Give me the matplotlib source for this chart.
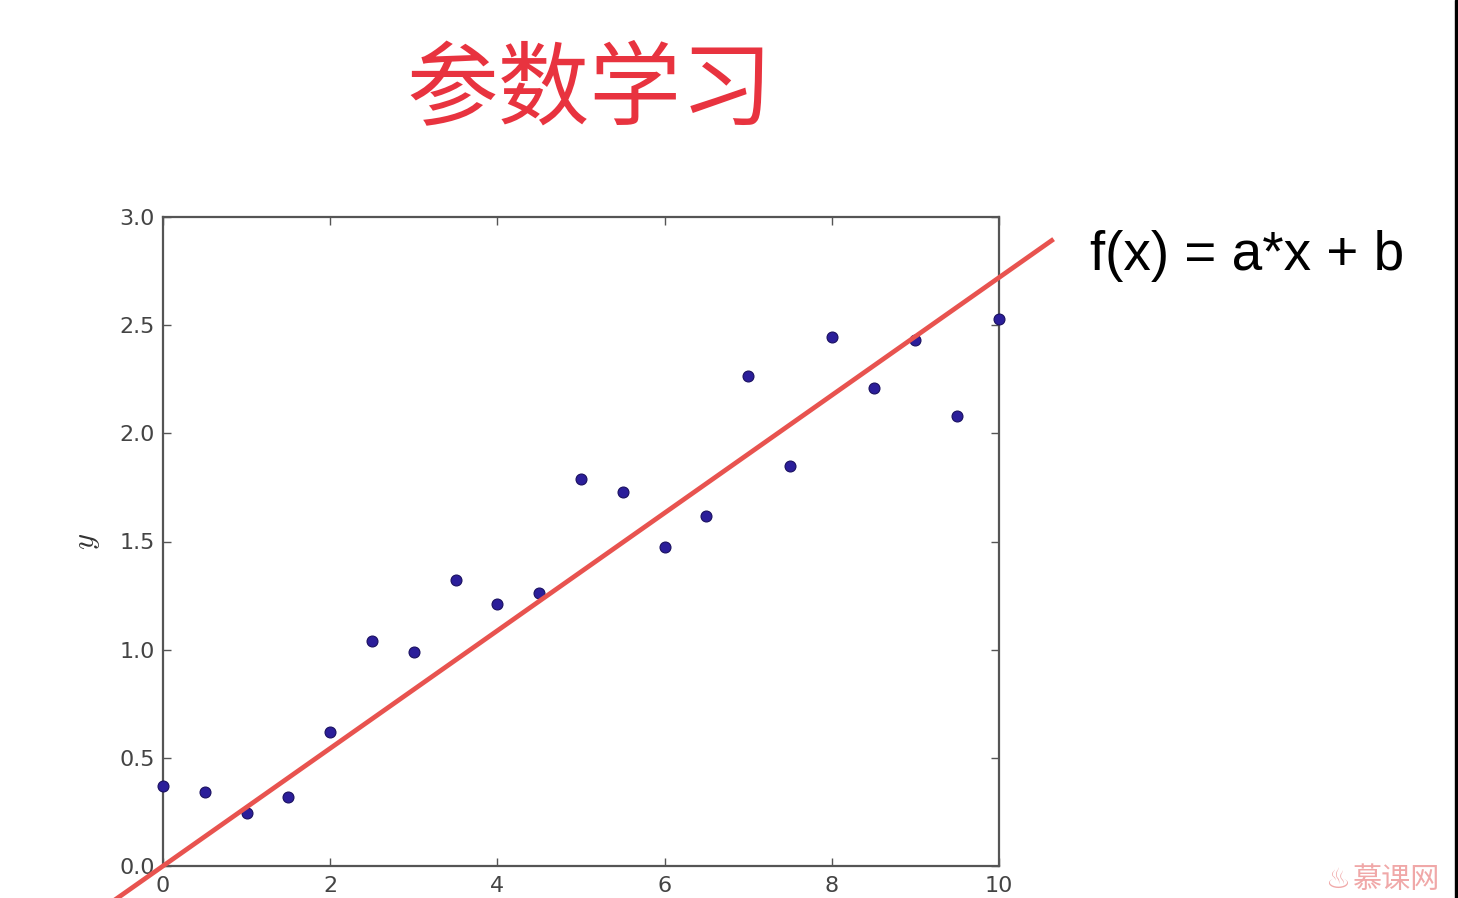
import matplotlib
matplotlib.use("Agg")
import matplotlib.pyplot as plt
from matplotlib.patches import Rectangle
import numpy as np

plt.rcParams['font.family'] = ['DejaVu Sans', 'Noto Sans CJK SC']
plt.rcParams['mathtext.fontset'] = 'cm'

# data
xs = [0, 0.5, 1, 1.5, 2, 2.5, 3, 3.5, 4, 4.5, 5,
      5.5, 6, 6.5, 7, 7.5, 8, 8.5, 9, 9.5, 10]
ys = [0.37, 0.34, 0.245, 0.32, 0.62, 1.04, 0.99, 1.32, 1.21, 1.26, 1.79,
      1.73, 1.475, 1.62, 2.265, 1.85, 2.445, 2.21, 2.43, 2.08, 2.53]
a, b = 0.272, 0.0
line_x = [-0.6, 10.63]
xticks = [0, 2, 4, 6, 8, 10]
yticks = [0.0, 0.5, 1.0, 1.5, 2.0, 2.5, 3.0]

fig = plt.figure(figsize=(14.58, 8.98), dpi=100)
ax = fig.add_axes([163 / 1458, 1 - 866 / 898, (999 - 163) / 1458, (866 - 217) / 898])

ax.scatter(xs, ys, s=62, color='#2b1e9a', edgecolors='#1a1060', linewidths=0.8,
           zorder=3, clip_on=False)
lx = np.array(line_x)
ax.plot(lx, a * lx + b, color='#e8534f', lw=3.4, clip_on=False, zorder=4)

ax.set_xlim(0, 10)
ax.set_ylim(0, 3)
ax.set_xticks(xticks)
ax.set_yticks(yticks)
ax.set_xticklabels([str(t) for t in xticks])
ax.set_yticklabels(['%.1f' % t for t in yticks])
ax.tick_params(direction='in', top=True, right=True, length=6, width=1,
               color='#555555', labelcolor='#444444', labelsize=16)
ax.tick_params(axis='x', pad=7)
ax.tick_params(axis='y', pad=6)
for sp in ax.spines.values():
    sp.set_color('#555555')
    sp.set_linewidth(1.6)
ax.set_ylabel('$y$', fontsize=22, color='#333333', labelpad=12)

fig.text(590 / 1458, 1 - 91 / 898, '参数学习', color='#e8333f', fontsize=66,
         family=['Noto Sans CJK SC'], ha='center', va='center')
fig.text(1090 / 1458, 1 - 256 / 898, 'f(x) = a*x + b', color='black',
         fontsize=39.5, family=['Liberation Sans'], ha='left', va='center')
fig.text(1353 / 1458, 1 - 880 / 898, '慕课网', color='#f0a8a8', fontsize=21,
         family=['Noto Sans CJK SC'], ha='left', va='center')
fig.text(1337 / 1458, 1 - 880 / 898, '♨', color='#f0a8a8', fontsize=20,
         ha='center', va='center')

fig.patches.append(Rectangle((1455 / 1458, 0), 3 / 1458, 1, color='black',
                             transform=fig.transFigure, figure=fig))

fig.savefig('out.png', dpi=100)
